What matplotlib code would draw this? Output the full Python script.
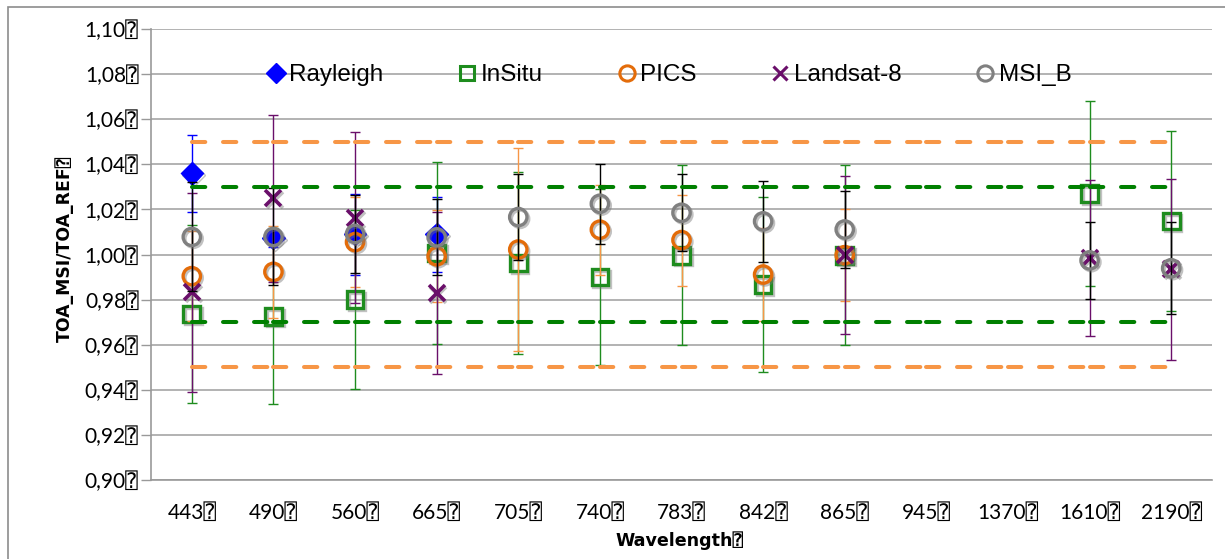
import numpy as np
import matplotlib
matplotlib.use("Agg")
import matplotlib.pyplot as plt
import matplotlib.patheffects as pe
from matplotlib.lines import Line2D
from matplotlib.patches import Rectangle

BOX = "\u2370"
nan = np.nan

categories = ["443", "490", "560", "665", "705", "740", "783", "842", "865", "945", "1370", "1610", "2190"]

rayleigh = [1.036, 1.0074, 1.009, 1.009, nan, nan, nan, nan, nan, nan, nan, nan, nan]
rayleigh_err = [0.017, 0.004, 0.018, 0.0167, nan, nan, nan, nan, nan, nan, nan, nan, nan]

insitu = [0.9736, 0.9726, 0.980, 1.0007, 0.9963, 0.990, 0.9997, 0.9867, 0.9997, nan, nan, 1.027, 1.0148]
insitu_err = [0.0396, 0.039, 0.0396, 0.0403, 0.0405, 0.039, 0.040, 0.039, 0.040, nan, nan, 0.041, 0.040]

pics = [0.9904, 0.9923, 1.0055, 0.9992, 1.0022, 1.011, 1.0064, 0.9911, 0.9997, nan, nan, nan, nan]
pics_err = [0.020, 0.0205, 0.020, 0.0204, 0.045, 0.020, 0.0202, 0.0205, 0.0205, nan, nan, nan, nan]

landsat = [0.9832, 1.0249, 1.0163, 0.983, nan, nan, nan, nan, 0.9997, nan, nan, 0.9983, 0.9934]
landsat_err = [0.0442, 0.037, 0.038, 0.036, nan, nan, nan, nan, 0.035, nan, nan, 0.0346, 0.040]

msib = [1.0078, 1.0078, 1.0091, 1.0076, 1.0166, 1.0225, 1.0185, 1.0147, 1.0111, nan, nan, 0.9974, 0.9939]
msib_err = [0.0242, 0.0215, 0.0173, 0.0168, 0.019, 0.0177, 0.017, 0.018, 0.017, nan, nan, 0.017, 0.0205]

pics_upper = [1.05] * 13
pics_lower = [0.95] * 13
insitu_upper = [1.03] * 13
insitu_lower = [0.97] * 13

yticks = [0.90, 0.92, 0.94, 0.96, 0.98, 1.00, 1.02, 1.04, 1.06, 1.08, 1.10]
ytick_labels = ["0,90", "0,92", "0,94", "0,96", "0,98", "1,00", "1,02", "1,04", "1,06", "1,08", "1,10"]

fig = plt.figure(figsize=(12.25, 5.59), dpi=100)
W, H = 1225, 559
ax = fig.add_axes([151 / W, (H - 480) / H, 1061 / W, 451 / H])

# outer frame
fig.patches.append(Rectangle((8 / W, -0.2), 1.2, 1 - 7 / H + 0.2, transform=fig.transFigure,
                             fill=False, edgecolor="#8c8c8c", linewidth=1.2))

x = np.arange(len(categories))
shadow = [pe.SimpleLineShadow(offset=(1.3, -1.3), shadow_color="#777777", alpha=0.45), pe.Normal()]

series = [
    ("Rayleigh", rayleigh, rayleigh_err, dict(marker="D", ms=11.5, mfc="#0000FF", mec="#0000FF", mew=1), "#0000FF"),
    ("InSitu", insitu, insitu_err, dict(marker="s", ms=12, mfc="none", mec="#1E8C1E", mew=2.4), "#1E8C1E"),
    ("PICS", pics, pics_err, dict(marker="o", ms=12.5, mfc="none", mec="#E36C0A", mew=2.4), "#F79646"),
    ("Landsat-8", landsat, landsat_err, dict(marker="x", ms=11.5, mfc="none", mec="#6A0F6A", mew=2.6), "#6A0F6A"),
    ("MSI_B", msib, msib_err, dict(marker="o", ms=12.5, mfc="none", mec="#808080", mew=2.4), "#000000"),
]

legend_ms = {"Rayleigh": 10.5, "InSitu": 10.5, "PICS": 11, "Landsat-8": 10.5, "MSI_B": 11}

z = 3
handles = []
for name, vals, errs, mstyle, ecol in series:
    ax.errorbar(x, vals, yerr=errs, fmt="none", ecolor=ecol, elinewidth=1.0,
                capsize=3.9, capthick=1.0, zorder=z)
    mline, = ax.plot(x, vals, linestyle="none", zorder=z + 0.5, **mstyle)
    mline.set_path_effects(shadow)
    z += 1
    lstyle = dict(mstyle)
    lstyle["ms"] = legend_ms[name]
    lstyle["mew"] = min(mstyle["mew"], 2.2)
    handles.append(Line2D([], [], linestyle="none", label=name, **lstyle))

# limit lines, segment by segment between categories
lw_dash = 2.9
for vals, col in [(pics_upper, "#F79646"), (pics_lower, "#F79646"),
                  (insitu_upper, "#008000"), (insitu_lower, "#008000")]:
    for i in range(len(x) - 1):
        ax.plot(x[i:i + 2], vals[i:i + 2], color=col, linewidth=lw_dash,
                dashes=(3.3, 4.4), dash_capstyle="round", zorder=12)

ax.set_xlim(-0.5, len(categories) - 0.5)
ax.set_ylim(0.90, 1.10)
ax.set_yticks(yticks)
ax.set_yticklabels([t + BOX for t in ytick_labels])
ax.set_xticks(x)
ax.set_xticklabels([c + BOX for c in categories])

tick_font = ["Lato", "DejaVu Sans", "DejaVu Sans Mono"]
for lab in ax.get_yticklabels() + ax.get_xticklabels():
    lab.set_fontfamily(tick_font)
    lab.set_fontsize(15)
    lab.set_color("#000000")

ax.tick_params(axis="y", direction="out", length=7.5, width=1.0, color="#999999", pad=1.5)
ax.tick_params(axis="x", length=0, pad=16.5)

ax.grid(axis="y", color="#a6a6a6", linewidth=1.2, zorder=0)
ax.set_axisbelow(True)
for s in ["top", "right"]:
    ax.spines[s].set_visible(False)
for s in ["left", "bottom"]:
    ax.spines[s].set_color("#999999")
    ax.spines[s].set_linewidth(1.2)

title_font = ["DejaVu Sans", "DejaVu Sans Mono"]
ax.set_ylabel("TOA_MSI/TOA_REF" + BOX, fontfamily=title_font, fontweight="bold", fontsize=12.4, va="center")
ax.yaxis.set_label_coords((65 - 151) / 1061, (480 - 248.5) / 451)
ax.set_xlabel("Wavelength" + BOX, fontfamily=title_font, fontweight="bold", fontsize=12.6, va="center")
ax.xaxis.set_label_coords((679 - 151) / 1061, (480 - 541) / 451)

leg = ax.legend(handles=handles, loc="center", bbox_to_anchor=((670 - 151) / 1061, (480 - 75) / 451),
                ncol=5, frameon=False, handlelength=0.6, handletextpad=0.25, columnspacing=3.15,
                prop={"family": "Liberation Sans", "size": 17.5}, borderaxespad=0, borderpad=0)
leg.set_zorder(20)

fig.savefig("out.png", dpi=100)
